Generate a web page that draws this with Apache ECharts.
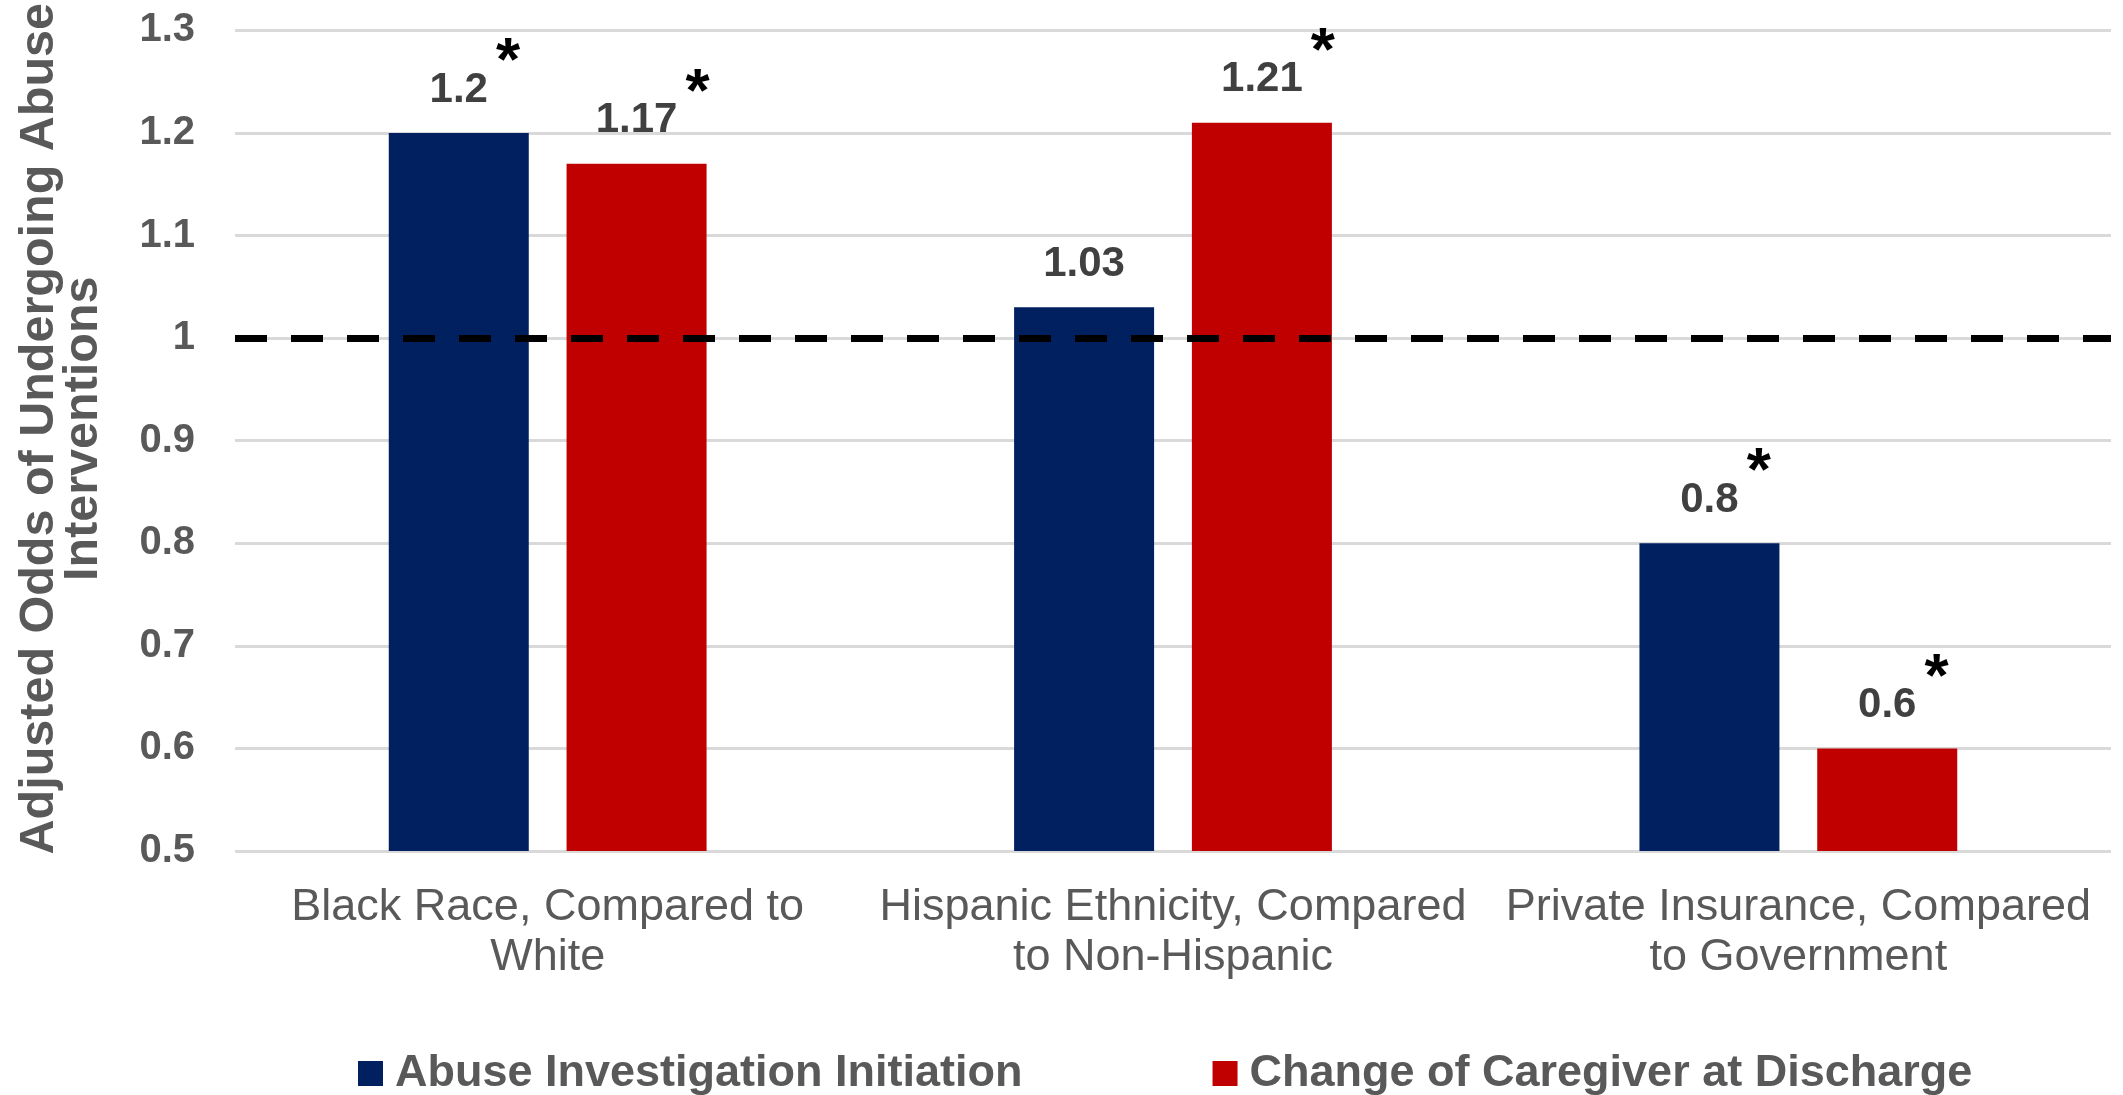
<!DOCTYPE html>
<html>
<head>
<meta charset="utf-8">
<title>Adjusted Odds of Undergoing Abuse Interventions</title>
<script src="https://cdn.jsdelivr.net/npm/echarts@6/dist/echarts.min.js"></script>
<style>
  html, body { margin: 0; padding: 0; background: #fff; }
  #main { width: 2123px; height: 1095px; }
</style>
</head>
<body>
<div id="main"></div>
<script>
// categories + series values
const categories = [
  'Black Race, Compared to\nWhite',
  'Hispanic Ethnicity, Compared\nto Non-Hispanic',
  'Private Insurance, Compared\nto Government'
];
const seriesNames = ['Abuse Investigation Initiation', 'Change of Caregiver at Discharge'];
const abuseInvestigation = [1.2, 1.03, 0.8];
const changeCaregiver = [1.17, 1.21, 0.6];
// significance marks (asterisks)
const sigInvestigation = [true, false, true];
const sigCaregiver = [true, true, true];
const yMin = 0.5, yMax = 1.3, yStep = 0.1;
const refLine = 1;

const font = "'Liberation Sans', Arial, sans-serif";

// two-line label: asterisk on a thin line above, to the right of the number
const makeLabel = (sig) => ({
  show: true,
  position: 'top',
  distance: 20,
  formatter: (p) => sig[p.dataIndex]
    ? `{t|*}{h|${p.value}}{s|*}\n{t|*}{v|${p.value}}{t|*}`
    : `{v|${p.value}}`,
  rich: {
    v: { fontFamily: font, fontSize: 42, fontWeight: 'bold', color: '#404040', lineHeight: 46 },
    h: { fontFamily: font, fontSize: 42, fontWeight: 'bold', color: 'transparent', lineHeight: 8 },
    s: { fontFamily: font, fontSize: 62, fontWeight: 'bold', color: '#000', lineHeight: 8, padding: [0, 0, 0, 8] },
    t: { fontFamily: font, fontSize: 62, fontWeight: 'bold', color: 'transparent', lineHeight: 8, padding: [0, 0, 0, 8] }
  }
});

const chart = echarts.init(document.getElementById('main'));
chart.setOption({
  animation: false,
  textStyle: { fontFamily: font },
  grid: { left: 235, right: 12, top: 30, bottom: 244, containLabel: false },
  legend: {
    data: seriesNames,
    left: 353,
    top: 1046,
    itemWidth: 25,
    itemHeight: 25,
    itemGap: 190,
    icon: 'rect',
    textStyle: { fontFamily: font, fontSize: 45, fontWeight: 'bold', color: '#595959', padding: [0, 0, 0, 7] }
  },
  xAxis: {
    type: 'category',
    data: categories,
    axisLine: { show: false },
    axisTick: { show: false },
    axisLabel: { color: '#595959', fontSize: 45, lineHeight: 50, margin: 32, interval: 0 }
  },
  yAxis: {
    type: 'value',
    min: yMin,
    max: yMax,
    interval: yStep,
    name: 'Adjusted Odds of Undergoing Abuse\nInterventions',
    nameLocation: 'middle',
    nameRotate: 90,
    nameGap: 129,
    nameTextStyle: {
      fontFamily: font, fontSize: 48.5, fontWeight: 'bold', color: '#595959', lineHeight: 44,
      padding: [0, 0, 0, 24]
    },
    axisLine: { show: false },
    axisTick: { show: false },
    axisLabel: {
      color: '#595959', fontSize: 40, fontWeight: 'bold', margin: 40,
      formatter: (v) => String(Math.round(v * 10) / 10)
    },
    splitLine: { lineStyle: { color: '#d9d9d9', width: 3 } }
  },
  series: [
    {
      name: seriesNames[0],
      type: 'bar',
      data: abuseInvestigation,
      barWidth: 140,
      barGap: '27%',
      itemStyle: { color: '#002060' },
      label: makeLabel(sigInvestigation)
    },
    {
      name: seriesNames[1],
      type: 'bar',
      data: changeCaregiver,
      barWidth: 140,
      barGap: '27%',
      itemStyle: { color: '#c00000' },
      label: makeLabel(sigCaregiver),
      markLine: {
        silent: true,
        symbol: 'none',
        z: 10,
        label: { show: false },
        lineStyle: { color: '#000', type: [32, 24], width: 7 },
        data: [{ yAxis: refLine }]
      }
    }
  ]
});
</script>
</body>
</html>
